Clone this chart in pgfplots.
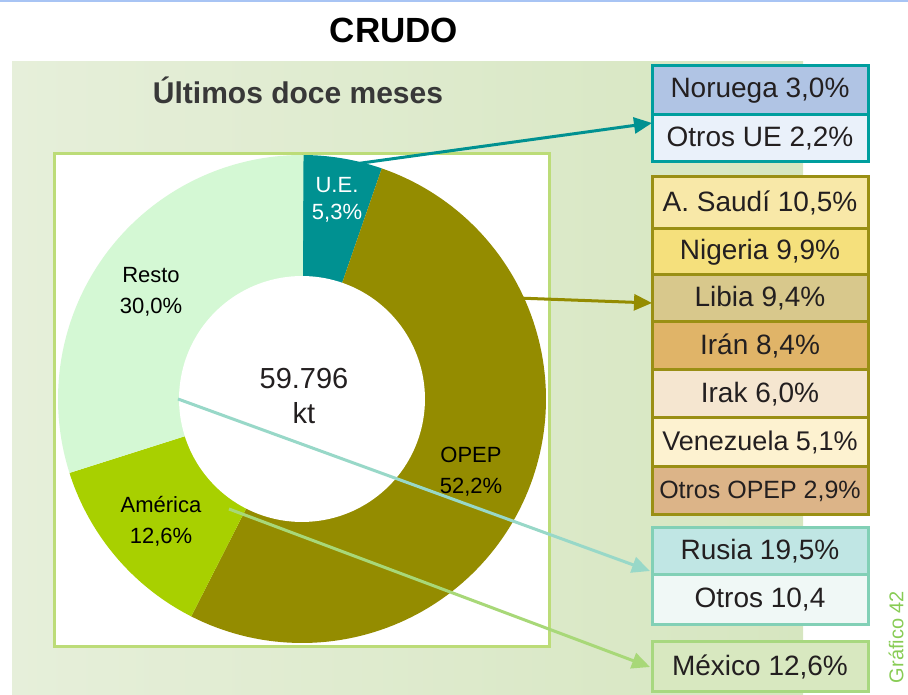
\documentclass[border=0pt]{standalone}
\usepackage{fontspec}
\setmainfont{Liberation Sans}
\usepackage{pgfplots}
\pgfplotsset{compat=1.18}
\usetikzlibrary{arrows.meta}

\definecolor{topblue}{HTML}{A8C4F4}
\definecolor{panelL}{HTML}{E6EFDA}
\definecolor{panelR}{HTML}{D6E6C0}
\definecolor{boxborder}{HTML}{BCDC78}
\definecolor{cUE}{HTML}{009191}
\definecolor{cOPEP}{HTML}{948C00}
\definecolor{cAme}{HTML}{A8D000}
\definecolor{cResto}{HTML}{D4F8D4}
\definecolor{txt}{HTML}{231F20}
\definecolor{bTeal}{HTML}{009E9E}
\definecolor{bOlive}{HTML}{9A8F14}
\definecolor{bMint}{HTML}{82D0B6}
\definecolor{bGreen}{HTML}{A8D880}
\definecolor{fNor}{HTML}{B0C4E4}
\definecolor{fOUE}{HTML}{EAF1FA}
\definecolor{fSau}{HTML}{F8E8A8}
\definecolor{fNig}{HTML}{F5E07C}
\definecolor{fLib}{HTML}{D8C88C}
\definecolor{fIra}{HTML}{E0B468}
\definecolor{fIrk}{HTML}{F5E6D0}
\definecolor{fVen}{HTML}{FDF2D0}
\definecolor{fOOP}{HTML}{DCB488}
\definecolor{fRus}{HTML}{C0E6E4}
\definecolor{fOtr}{HTML}{F0F8F6}
\definecolor{fMex}{HTML}{D8E8C0}
\definecolor{aMint}{HTML}{98D8C8}
\definecolor{aGreen}{HTML}{A8D878}
\definecolor{grafico}{HTML}{88CC55}

% shares of the ring (%)
\def\pUE{5.3}
\def\pOPEP{52.2}
\def\pAme{12.6}
\def\pResto{30.0}

\newcommand{\fs}[1]{\fontsize{#1}{#1}\selectfont}
% \cell{fill}{border}{ytop}{ybot}{size}{text}
\newcommand{\cell}[6]{%
  \filldraw[fill=#1, draw=#2, line width=3pt] (652,#3) rectangle (868,#4);
  \node[text=txt, font=\fs{#5}, inner sep=0pt] at (760,{(#3+#4)/2}) {#6};}

\begin{document}
\begin{tikzpicture}[x=1pt,y=1pt]
\useasboundingbox (0,0) rectangle (908,695);
\fill[topblue] (0,693) rectangle (908,695);
\node[font=\fs{35}\bfseries, text=black] at (394,665) {CRUDO};

% panel
\shade[left color=panelL, right color=panelR] (12,0) rectangle (803,633);
\node[font=\fs{30}\bfseries, text=black!78] at (298,605) {Últimos doce meses};

% white box
\filldraw[fill=white, draw=boxborder, line width=3pt] (54,48) rectangle (549,541);

\pgfmathsetmacro{\aA}{90}
\pgfmathsetmacro{\aB}{\aA-3.6*\pUE}
\pgfmathsetmacro{\aC}{\aB-3.6*\pOPEP}
\pgfmathsetmacro{\aD}{\aC-3.6*\pAme}
\pgfmathsetmacro{\aE}{\aD-3.6*\pResto}

\begin{axis}[
  at={(302pt,296pt)}, anchor=center,
  scale only axis, width=488pt, height=488pt,
  xmin=-1, xmax=1, ymin=-1, ymax=1,
  hide axis, clip=false]
\addplot[fill=cUE, draw=none, domain=\aB:\aA, samples=30, variable=\t]
  ({cos(\t)},{sin(\t)}) -- (axis cs:0,0) -- cycle;
\addplot[fill=cOPEP, draw=none, domain=\aC:\aB, samples=120, variable=\t]
  ({cos(\t)},{sin(\t)}) -- (axis cs:0,0) -- cycle;
\addplot[fill=cAme, draw=none, domain=\aD:\aC, samples=40, variable=\t]
  ({cos(\t)},{sin(\t)}) -- (axis cs:0,0) -- cycle;
\addplot[fill=cResto, draw=none, domain=\aE:\aD, samples=80, variable=\t]
  ({cos(\t)},{sin(\t)}) -- (axis cs:0,0) -- cycle;
\addplot[fill=white, draw=none, domain=0:360, samples=160, variable=\t]
  ({0.504*cos(\t)},{0.504*sin(\t)}) -- cycle;
\end{axis}

% ring labels
\node[text=white, font=\fs{22}] at (337,510) {U.E.};
\node[text=white, font=\fs{22}] at (337,482) {5,3\%};
\node[text=black, font=\fs{22}] at (151,420) {Resto};
\node[text=black, font=\fs{22}] at (151,388) {30,0\%};
\node[text=txt, font=\fs{29}] at (304,316) {59.796};
\node[text=txt, font=\fs{29}] at (304,282) {kt};
\node[text=black, font=\fs{22}] at (471,240) {OPEP};
\node[text=black, font=\fs{22}] at (471,208) {52,2\%};
\node[text=black, font=\fs{22}] at (161,190) {América};
\node[text=black, font=\fs{22}] at (161,158) {12,6\%};

% boxes
\filldraw[fill=white, draw=bTeal, line width=3pt] (652,629) rectangle (868,533);
\cell{fNor}{bTeal}{629}{580}{28}{Noruega 3,0\%}
\cell{fOUE}{bTeal}{580}{533}{28}{Otros UE 2,2\%}
\cell{fSau}{bOlive}{518}{466}{28}{A. Saudí 10,5\%}
\cell{fNig}{bOlive}{466}{420}{28}{Nigeria 9,9\%}
\cell{fLib}{bOlive}{420}{373}{28}{Libia 9,4\%}
\cell{fIra}{bOlive}{373}{325}{28}{Irán 8,4\%}
\cell{fIrk}{bOlive}{325}{277}{28}{Irak 6,0\%}
\cell{fVen}{bOlive}{277}{228}{27}{Venezuela 5,1\%}
\cell{fOOP}{bOlive}{228}{180}{25}{Otros OPEP 2,9\%}
\cell{fRus}{bMint}{167}{120}{28}{Rusia 19,5\%}
\cell{fOtr}{bMint}{120}{70}{28}{Otros 10,4}
\cell{fMex}{bGreen}{53}{3}{28}{México 12,6\%}

% arrows
\draw[cUE, line width=3pt, -{Triangle[length=18pt,width=16pt]}] (340,529) -- (652,572);
\draw[cOPEP, line width=3pt, -{Triangle[length=18pt,width=16pt]}] (490,398) -- (652,392);
\draw[aMint, line width=3pt, -{Triangle[length=18pt,width=16pt]}] (178,296) -- (650,124);
\draw[aGreen, line width=3pt, -{Triangle[length=18pt,width=16pt]}] (229,186) -- (650,28);

\node[rotate=90, text=grafico, font=\fs{20}, inner sep=0pt] at (896,58) {Gráfico 42};
\end{tikzpicture}
\end{document}
